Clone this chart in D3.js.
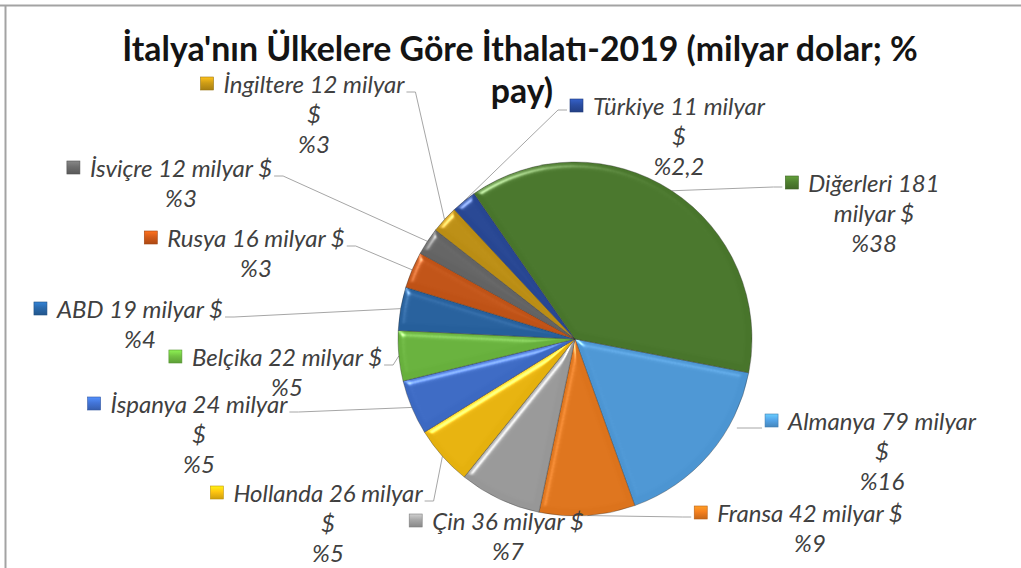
<!DOCTYPE html>
<html>
<head>
<meta charset="utf-8">
<script src="https://cdn.jsdelivr.net/npm/d3@7"></script>
<style>
  body { margin: 0; background: #fff; }
  svg { display: block; }
  text { font-family: Lato, "Open Sans", sans-serif; }
</style>
</head>
<body>
<div id="chart"></div>
<script>
// data (order = clockwise from the Diğerleri / Almanya border)
var countries = ["Almanya", "Fransa", "Çin", "Hollanda", "İspanya", "Belçika", "ABD", "Rusya", "İsviçre", "İngiltere", "Türkiye", "Diğerleri"];
var values = [79, 42, 36, 26, 24, 22, 19, 16, 12, 12, 11, 181];
var shares = ["%16", "%9", "%7", "%5", "%5", "%5", "%4", "%3", "%3", "%3", "%2,2", "%38"];
var colors = ["#55a6ea", "#f5801f", "#a8a8a8", "#ffc510", "#4375d8", "#73c443", "#2a6aad", "#d55b18", "#6e6e6e", "#cf9d16", "#2b4ea3", "#508230"];

// label layout: words on first line, first-line centre + baseline, leader side
var firstLineWords = [3, 4, 4, 3, 3, 4, 4, 4, 4, 3, 3, 2];
var labelPos = [[882, 430], [810, 522], [508, 530], [328, 502], [199, 413], [287, 366], [140, 318], [256, 247], [181, 177], [314, 93], [679, 115], [874, 192]];
var leaderSide = ["near", "left", "none", "right", "right", "right", "right", "right", "right", "right", "left", "left"];

var width = 1021, height = 568;
var cx = 575, cy = 339, radius = 177;
var lineH = 30;
var start = 101 * Math.PI / 180;

var svg = d3.select("#chart").append("svg")
  .attr("width", width)
  .attr("height", height);

var defs = svg.append("defs");

// soft bevel on the slice edges
var bevel = defs.append("filter").attr("id", "bevel")
  .attr("color-interpolation-filters", "sRGB")
  .attr("x", "-5%").attr("y", "-5%").attr("width", "110%").attr("height", "110%");
bevel.append("feGaussianBlur").attr("in", "SourceAlpha").attr("stdDeviation", 3).attr("result", "blur");
bevel.append("feSpecularLighting").attr("in", "blur").attr("surfaceScale", 4)
  .attr("specularConstant", 0.6).attr("specularExponent", 30)
  .attr("lighting-color", "#ffffff").attr("result", "spec")
  .append("feDistantLight").attr("azimuth", 235).attr("elevation", 35);
bevel.append("feComposite").attr("in", "spec").attr("in2", "SourceAlpha").attr("operator", "in").attr("result", "specIn");
bevel.append("feComposite").attr("in", "SourceGraphic").attr("in2", "specIn")
  .attr("operator", "arithmetic").attr("k1", 0).attr("k2", 1).attr("k3", 0.8).attr("k4", 0);

colors.forEach(function(c, i) {
  var g = defs.append("radialGradient").attr("id", "slice" + i)
    .attr("gradientUnits", "userSpaceOnUse")
    .attr("cx", cx).attr("cy", cy).attr("r", radius);
  g.append("stop").attr("offset", "0%").attr("stop-color", c);
  g.append("stop").attr("offset", "92%").attr("stop-color", c);
  g.append("stop").attr("offset", "100%").attr("stop-color", d3.color(c).darker(0.3));

  var m = defs.append("linearGradient").attr("id", "mark" + i)
    .attr("x1", 0).attr("y1", 0).attr("x2", 0).attr("y2", 1);
  m.append("stop").attr("offset", "0%").attr("stop-color", d3.color(c).brighter(0.6));
  m.append("stop").attr("offset", "45%").attr("stop-color", c);
  m.append("stop").attr("offset", "100%").attr("stop-color", d3.color(c).darker(0.6));
});

// frame (only top and left show in the crop)
svg.append("line").attr("x1", 0).attr("x2", width).attr("y1", 5.5).attr("y2", 5.5)
  .attr("stroke", "#a3a3a3").attr("stroke-width", 2);
svg.append("line").attr("x1", 5.5).attr("x2", 5.5).attr("y1", 5).attr("y2", height)
  .attr("stroke", "#a3a3a3").attr("stroke-width", 2);

// title
var title = svg.append("text")
  .attr("text-anchor", "middle")
  .attr("font-weight", "bold")
  .attr("fill", "#141414")
  .attr("font-size", 30);
title.append("tspan").attr("x", 520).attr("y", 61).text("İtalya'nın Ülkelere Göre İthalatı-2019 (milyar dolar; %");
title.append("tspan").attr("x", 522).attr("y", 103).text("pay)");
var tw = title.select("tspan").node().getComputedTextLength();
title.attr("font-size", 30 * 796 / tw);

// pie
var pie = d3.pie().sort(null).value(function(d) { return d; })
  .startAngle(start).endAngle(start + 2 * Math.PI);
var arcs = pie(values);
var arc = d3.arc().innerRadius(0).outerRadius(radius);

var pieG = svg.append("g").attr("transform", "translate(" + cx + "," + cy + ")");
pieG.selectAll("path.slice")
  .data(arcs)
  .enter().append("path")
  .attr("class", "slice")
  .attr("d", arc)
  .attr("fill", function(d, i) { return "url(#slice" + i + ")"; })
  .attr("stroke", "rgba(50,50,50,0.45)")
  .attr("stroke-width", 0.8)
  .attr("filter", "url(#bevel)");

// labels
var labelSize = 19;
var probe = svg.append("text").attr("font-style", "italic").attr("font-size", labelSize).text("Türkiye 11 milyar");
labelSize = labelSize * 172 / probe.node().getComputedTextLength();
probe.remove();

function edgePoint(a) {
  return [cx + radius * Math.sin(a), cy - radius * Math.cos(a)];
}

var labels = svg.append("g");
arcs.forEach(function(d, i) {
  var words = (countries[i] + " " + values[i] + " milyar $").split(" ");
  var lines = [words.slice(0, firstLineWords[i]).join(" ")];
  if (words.length > firstLineWords[i]) lines.push(words.slice(firstLineWords[i]).join(" "));
  lines.push(shares[i]);

  var x = labelPos[i][0], y = labelPos[i][1];
  var g = labels.append("g");
  var t = g.append("text")
    .attr("font-style", "italic")
    .attr("font-size", labelSize)
    .attr("fill", "#404040")
    .attr("text-anchor", "middle");
  lines.forEach(function(l, k) {
    t.append("tspan").attr("x", x).attr("y", y + k * lineH).text(l);
  });
  var w = t.select("tspan").node().getComputedTextLength();
  var x0 = x - w / 2, x1 = x + w / 2;
  var ms = 13;
  g.append("rect")
    .attr("x", x0 - 10 - ms).attr("y", y - 16)
    .attr("width", ms).attr("height", ms)
    .attr("fill", "url(#mark" + i + ")")
    .attr("stroke", d3.color(colors[i]).darker(0.8))
    .attr("stroke-width", 0.6);

  // leader line
  var side = leaderSide[i];
  if (side === "none") return;
  var pts;
  var mid = (d.startAngle + d.endAngle) / 2;
  if (side === "right") {
    var ax = x1 + 2, ay = y - 1;
    pts = [[ax, ay], [ax + 9, ay], edgePoint(mid)];
  } else if (side === "left") {
    var lx = x0 - 10 - ms - 3, ly = y - 5;
    pts = [[lx, ly], [lx - 9, ly], edgePoint(mid)];
  } else {
    var nx = x0 - 10 - ms - 3, ny = y - 2;
    var a = Math.atan2(nx - cx, -(ny - cy));
    while (a < d.startAngle) a += 2 * Math.PI;
    a = Math.max(d.startAngle, Math.min(d.endAngle, a));
    var e = edgePoint(a);
    pts = [[nx, ny], [e[0] + 2, ny]];
  }
  svg.insert("path", "g")
    .attr("d", d3.line()(pts))
    .attr("fill", "none")
    .attr("stroke", "#a6a6a6")
    .attr("stroke-width", 1);
});
</script>
</body>
</html>
